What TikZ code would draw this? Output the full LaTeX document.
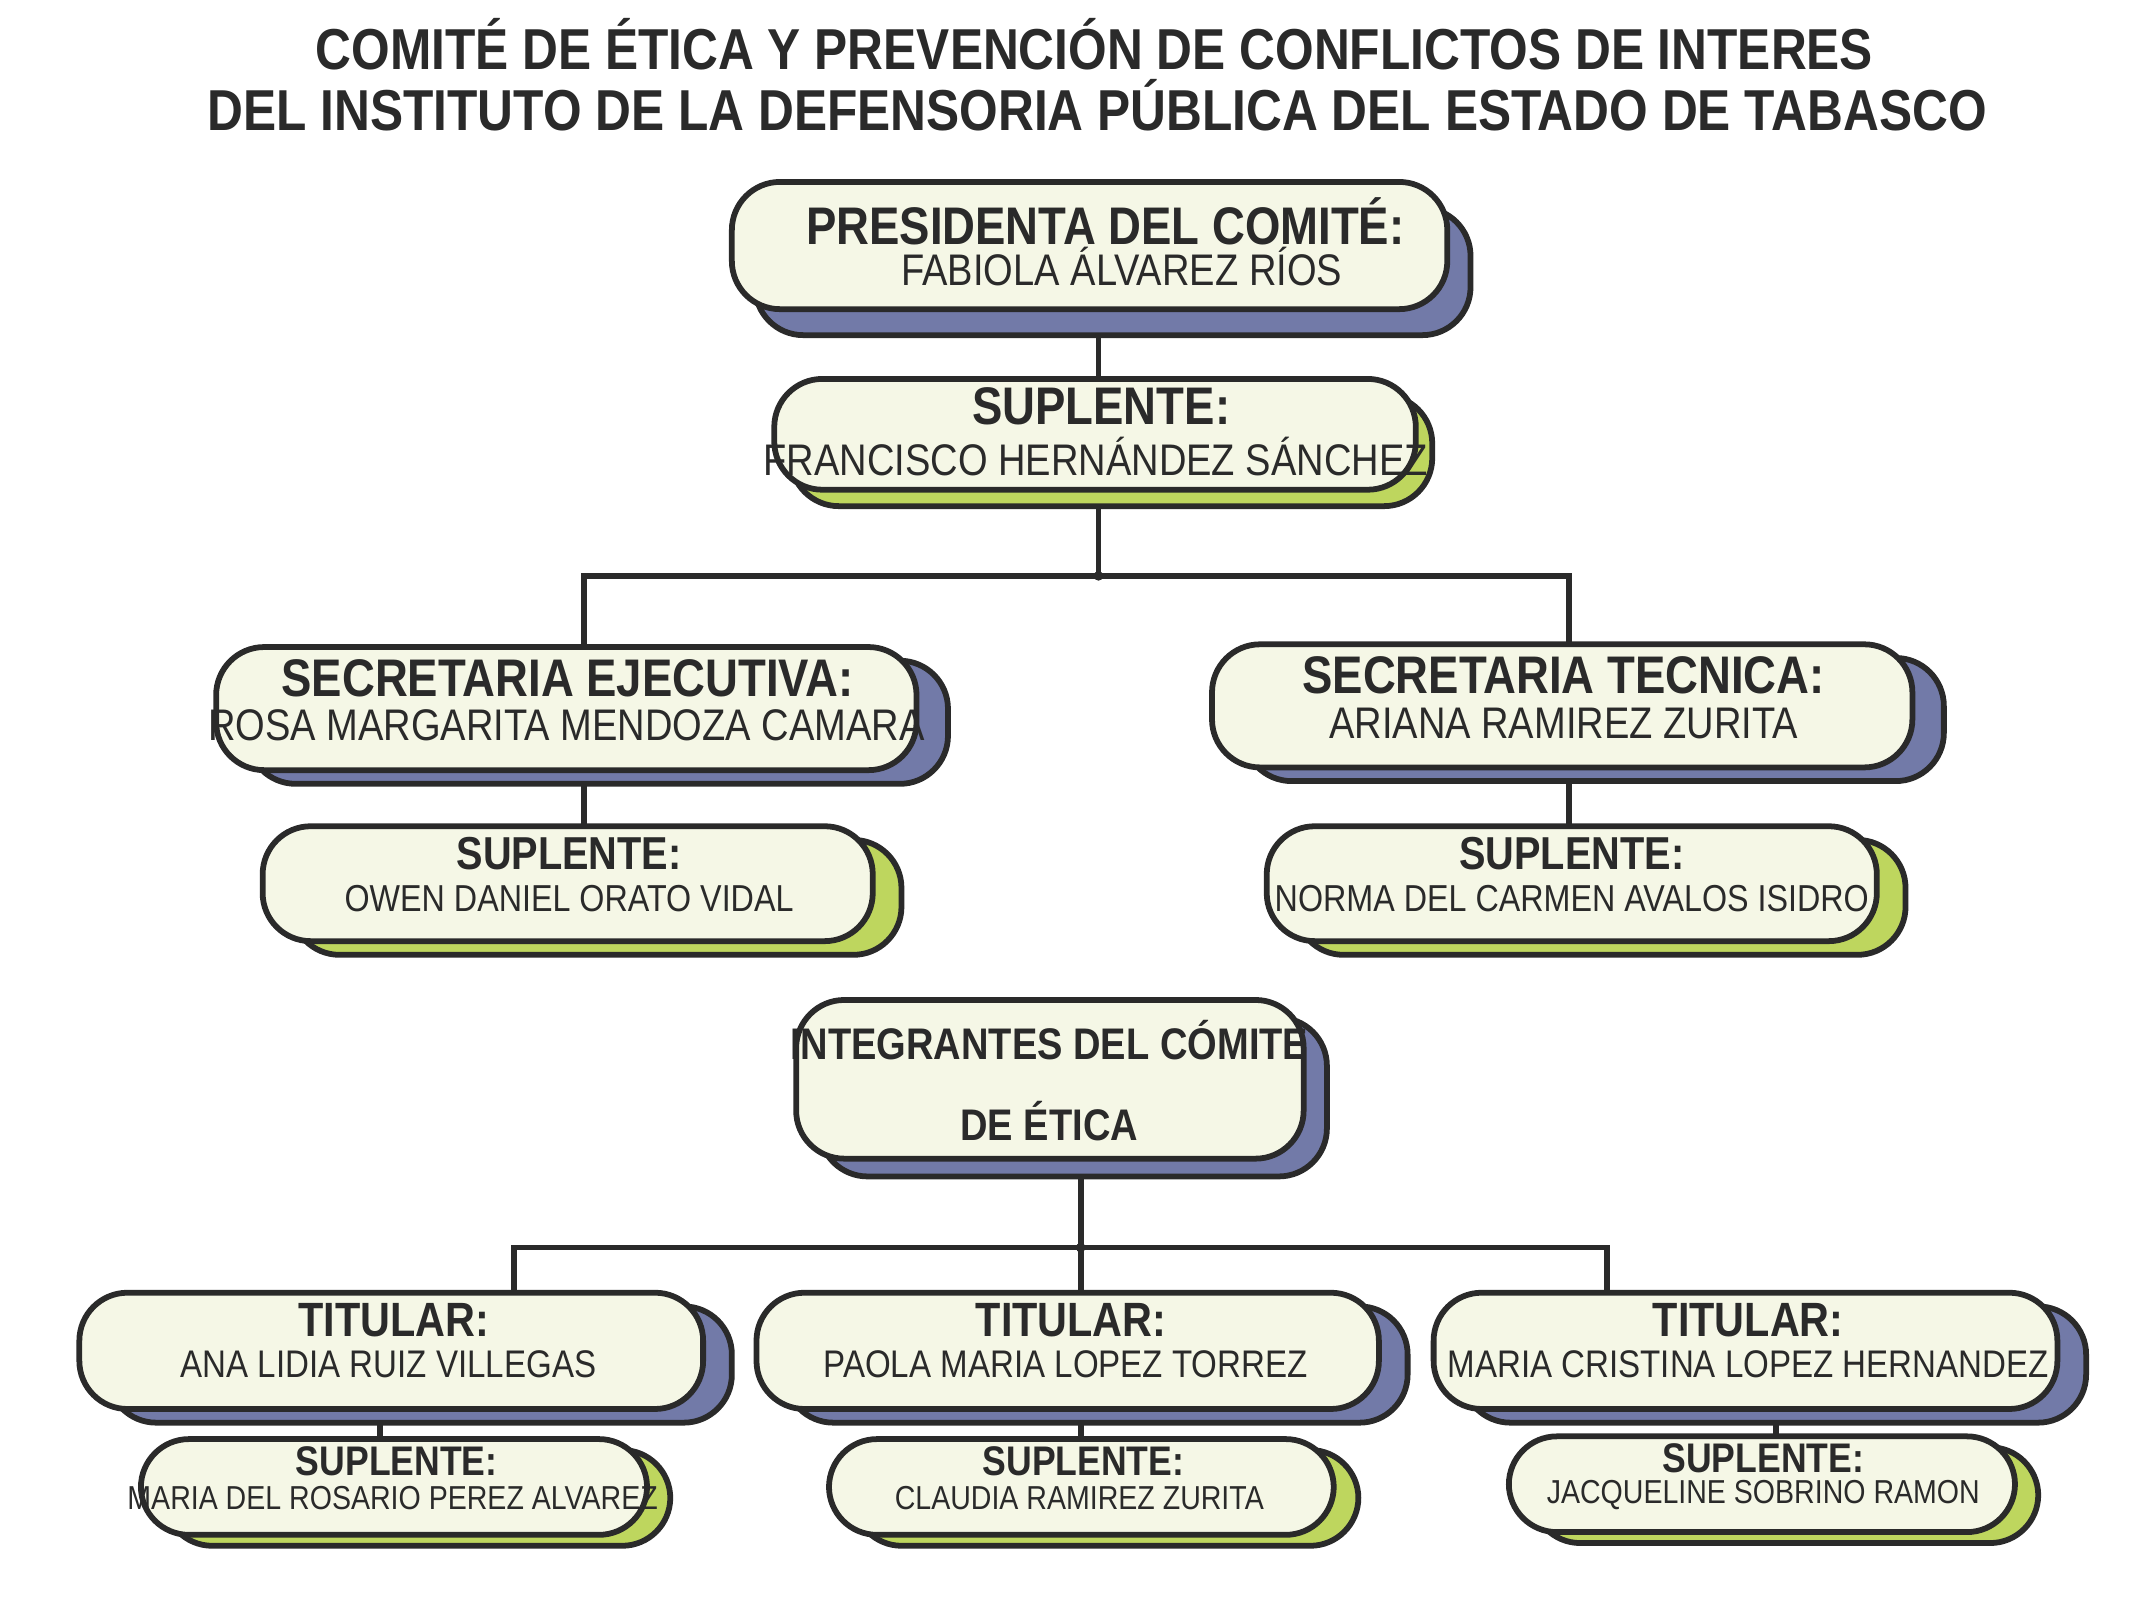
\documentclass[tikz,border=0pt]{standalone}
\usepackage{fontspec}
\setmainfont[FakeStretch=0.86]{Liberation Sans}
\usetikzlibrary{positioning}
\definecolor{cardfill}{HTML}{F5F7E6}
\definecolor{cardblue}{HTML}{727AA8}
\definecolor{cardgreen}{HTML}{BED65E}
\definecolor{ink}{HTML}{2A2A2A}
\tikzset{
  cardbox/.style={draw=ink, line width=1.2pt, rounded corners=10pt, fill=cardfill},
  cardshadow/.style={draw=ink, line width=1.2pt, rounded corners=10pt, fill=#1},
  link/.style={draw=ink, line width=1.2pt},
  head/.style={font=\bfseries\fontsize{11}{13}\selectfont, text=ink, inner sep=0pt},
  who/.style={font=\fontsize{9.2}{11}\selectfont, text=ink, inner sep=0pt},
  headsm/.style={font=\bfseries\fontsize{8.6}{10}\selectfont, text=ink, inner sep=0pt},
  whosm/.style={font=\fontsize{6.9}{8}\selectfont, text=ink, inner sep=0pt},
}
% card: name, x1, y1, x2, y2, shadow colour, shadow dx, shadow dy
\newcommand{\orgcard}[8]{%
  \draw[cardshadow=#6] ({#2+#7},{#3+#8}) rectangle ({#4+#7},{#5+#8});
  \draw[cardbox] (#2,#3) rectangle (#4,#5);
  \coordinate (#1-n) at ({(#2+#4)/2},#3);
  \coordinate (#1-s) at ({(#2+#4)/2},{#5+#8});
}
\begin{document}
\begin{tikzpicture}[x=0.01cm, y=-0.01cm]
\useasboundingbox (0,0) rectangle (1560,1170);

\node[font=\bfseries\fontsize{12}{14}\selectfont, text=ink] (title1) at (800,32) {COMITÉ DE ÉTICA Y PREVENCIÓN DE CONFLICTOS DE INTERES};
\node[font=\bfseries\fontsize{12}{14}\selectfont, text=ink] (title2) at (802,77) {DEL INSTITUTO DE LA DEFENSORIA PÚBLICA DEL ESTADO DE TABASCO};

% connectors first
\coordinate (j1) at (803,421);
\coordinate (j2) at (790,912);
\draw[link] (803,240) -- (803,280);
\draw[link] (803,365) -- (j1);
\draw[link] (427,476) |- (j1) -| (1147,474);
\draw[link] (427,570) -- (427,606);
\draw[link] (1147,568) -- (1147,606);
\draw[link] (790,855) -- (j2);
\draw[link] (376,948) |- (j2) -| (1175,948);
\draw[link] (j2) -- (790,948);
\draw[link] (278,1035) -- (278,1054);
\draw[link] (790,1035) -- (790,1054);
\draw[link] (1298,1035) -- (1298,1052);
\fill[ink] (j1) circle (3.5);
\fill[ink] (j2) circle (3.5);

\orgcard{pres}{535}{133}{1058}{226}{cardblue}{17}{19}
\node[head] (presh) at (808,162) {PRESIDENTA DEL COMITÉ:};
\node[who] (presn) at (820,195) {FABIOLA ÁLVAREZ RÍOS};

\orgcard{sup}{566}{277}{1035}{358}{cardgreen}{12}{12}
\node[head] (suph) at (805,297) {SUPLENTE:};
\node[who] (supn) at (801,334) {FRANCISCO HERNÁNDEZ SÁNCHEZ};

\orgcard{seje}{158}{473}{670}{563}{cardblue}{23}{10}
\node[head] (sejeh) at (415,496) {SECRETARIA EJECUTIVA:};
\node[who] (sejen) at (414,530) {ROSA MARGARITA MENDOZA CAMARA};

\orgcard{stec}{886}{471}{1398}{561}{cardblue}{23}{10}
\node[head] (stech) at (1143,494) {SECRETARIA TECNICA:};
\node[who] (stecn) at (1143,529) {ARIANA RAMIREZ ZURITA};

\orgcard{sejes}{192}{604}{638}{688}{cardgreen}{21}{10}
\node[headsm, font=\bfseries\fontsize{9.6}{11}\selectfont] (sejesh) at (416,624) {SUPLENTE:};
\node[whosm, font=\fontsize{7.8}{9}\selectfont] (sejesn) at (416,657) {OWEN DANIEL ORATO VIDAL};

\orgcard{stecs}{926}{604}{1372}{688}{cardgreen}{21}{10}
\node[headsm, font=\bfseries\fontsize{9.6}{11}\selectfont] (stecsh) at (1149,624) {SUPLENTE:};
\node[whosm, font=\fontsize{7.8}{9}\selectfont] (stecsn) at (1149,657) {NORMA DEL CARMEN AVALOS ISIDRO};

\orgcard{integ}{582}{731}{953}{847}{cardblue}{17}{13}
\node[headsm, font=\bfseries\fontsize{9.2}{11}\selectfont, align=center] (integh) at (767,790) {INTEGRANTES DEL CÓMITE\\[6pt]DE ÉTICA};

\orgcard{tit1}{58}{945}{514}{1030}{cardblue}{21}{10}
\node[headsm, font=\bfseries\fontsize{10}{12}\selectfont] (tit1h) at (288,965) {TITULAR:};
\node[whosm, font=\fontsize{8}{9}\selectfont] (tit1n) at (284,997) {ANA LIDIA RUIZ VILLEGAS};

\orgcard{tit2}{553}{945}{1008}{1030}{cardblue}{21}{10}
\node[headsm, font=\bfseries\fontsize{10}{12}\selectfont] (tit2h) at (783,965) {TITULAR:};
\node[whosm, font=\fontsize{8}{9}\selectfont] (tit2n) at (779,997) {PAOLA MARIA LOPEZ TORREZ};

\orgcard{tit3}{1048}{945}{1504}{1030}{cardblue}{21}{10}
\node[headsm, font=\bfseries\fontsize{10}{12}\selectfont] (tit3h) at (1278,965) {TITULAR:};
\node[whosm, font=\fontsize{8}{9}\selectfont] (tit3n) at (1278,997) {MARIA CRISTINA LOPEZ HERNANDEZ};

\orgcard{sup1}{103}{1052}{473}{1122}{cardgreen}{17}{8}
\node[headsm] (sup1h) at (290,1068) {SUPLENTE:};
\node[whosm] (sup1n) at (287,1095) {MARIA DEL ROSARIO PEREZ ALVAREZ};

\orgcard{sup2}{606}{1052}{975}{1122}{cardgreen}{18}{8}
\node[headsm] (sup2h) at (792,1068) {SUPLENTE:};
\node[whosm] (sup2n) at (789,1095) {CLAUDIA RAMIREZ ZURITA};

\orgcard{sup3}{1103}{1050}{1473}{1120}{cardgreen}{17}{8}
\node[headsm] (sup3h) at (1289,1066) {SUPLENTE:};
\node[whosm] (sup3n) at (1289,1093) {JACQUELINE SOBRINO RAMON};
\end{tikzpicture}
\end{document}
